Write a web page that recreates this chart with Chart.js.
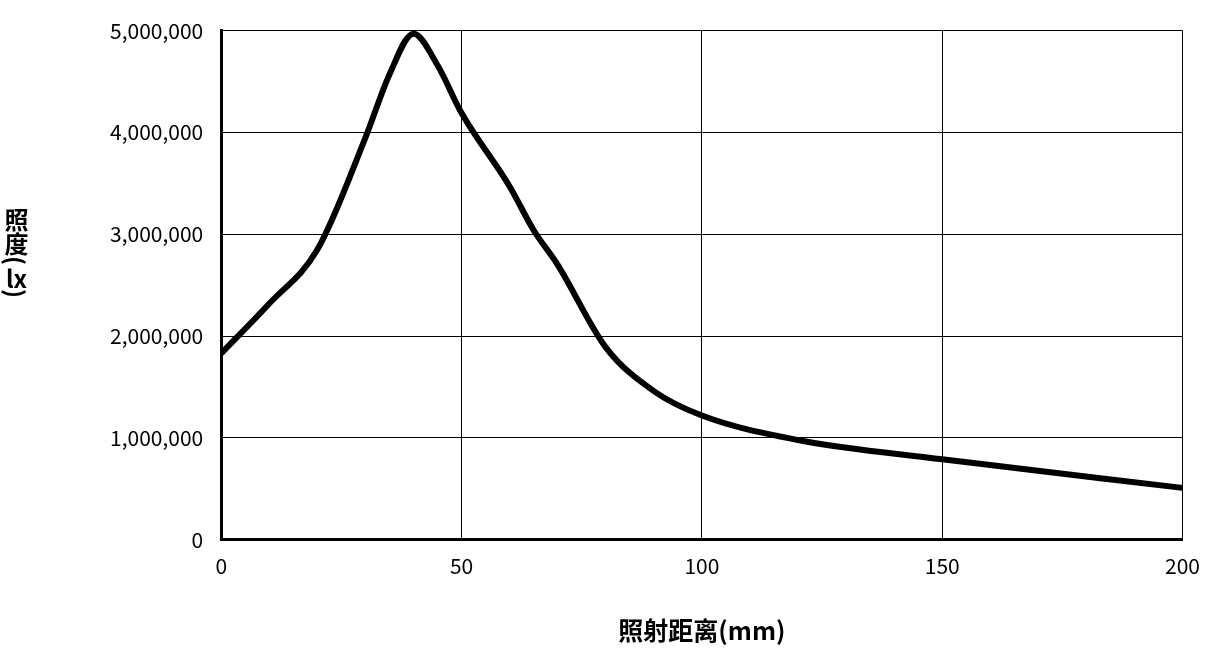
<!DOCTYPE html>
<html>
<head>
<meta charset="utf-8">
<script src="https://cdn.jsdelivr.net/npm/chart.js@4/dist/chart.umd.min.js"></script>
<style>
body { margin: 0; background: #fff; }
#wrap { position: relative; width: 1214px; height: 671px; }
#ytitle { position: absolute; left: 0; top: 208px; width: 32px; writing-mode: vertical-rl; text-orientation: mixed;
  font-family: "Noto Sans CJK SC"; font-weight: bold; font-size: 24px; line-height: 32px; }
#ytitle span { text-combine-upright: all; }
</style>
</head>
<body>
<div id="wrap">
<canvas id="c" width="1214" height="671"></canvas>
<div id="ytitle">照度(<span>lx</span>)</div>
</div>
<script>
const distances = [0, 10, 20, 30, 35, 40, 45, 50, 60, 65, 70, 80, 90, 100, 120, 150, 200];
const illuminance = [1830000, 2320000, 2850000, 3950000, 4570000, 4970000, 4660000, 4190000, 3470000, 3040000, 2700000, 1890000, 1460000, 1220000, 980000, 790000, 510000];
const xTitle = "照射距离(mm)";

const font = "'Noto Sans CJK SC', 'Noto Sans', sans-serif";

new Chart(document.getElementById("c"), {
    type: "line",
    data: {
        datasets: [{
            data: distances.map((x, i) => ({ x: x, y: illuminance[i] })),
            borderColor: "#000",
            borderWidth: 6,
            pointRadius: 0,
            cubicInterpolationMode: "monotone",
            fill: false
        }]
    },
    options: {
        responsive: false,
        animation: false,
        layout: { padding: { top: -4, right: 22, left: 92, bottom: 22 } },
        plugins: { legend: { display: false }, tooltip: { enabled: false } },
        scales: {
            x: {
                type: "linear",
                min: 0, max: 200,
                ticks: { stepSize: 50, color: "#000", font: { family: font, size: 21 }, padding: 14 },
                grid: { color: "#000", lineWidth: 1, drawTicks: false },
                border: { color: "#000", width: 3 },
                title: { display: true, text: xTitle, color: "#000", font: { family: font, size: 25, weight: "bold" }, padding: { top: 22 } }
            },
            y: {
                min: 0, max: 5000000,
                ticks: {
                    stepSize: 1000000, color: "#000", font: { family: font, size: 21 }, padding: 18,
                    callback: v => v.toLocaleString("en-US")
                },
                grid: { color: "#000", lineWidth: 1, drawTicks: false },
                border: { color: "#000", width: 3 }
            }
        }
    }
});
</script>
</body>
</html>
